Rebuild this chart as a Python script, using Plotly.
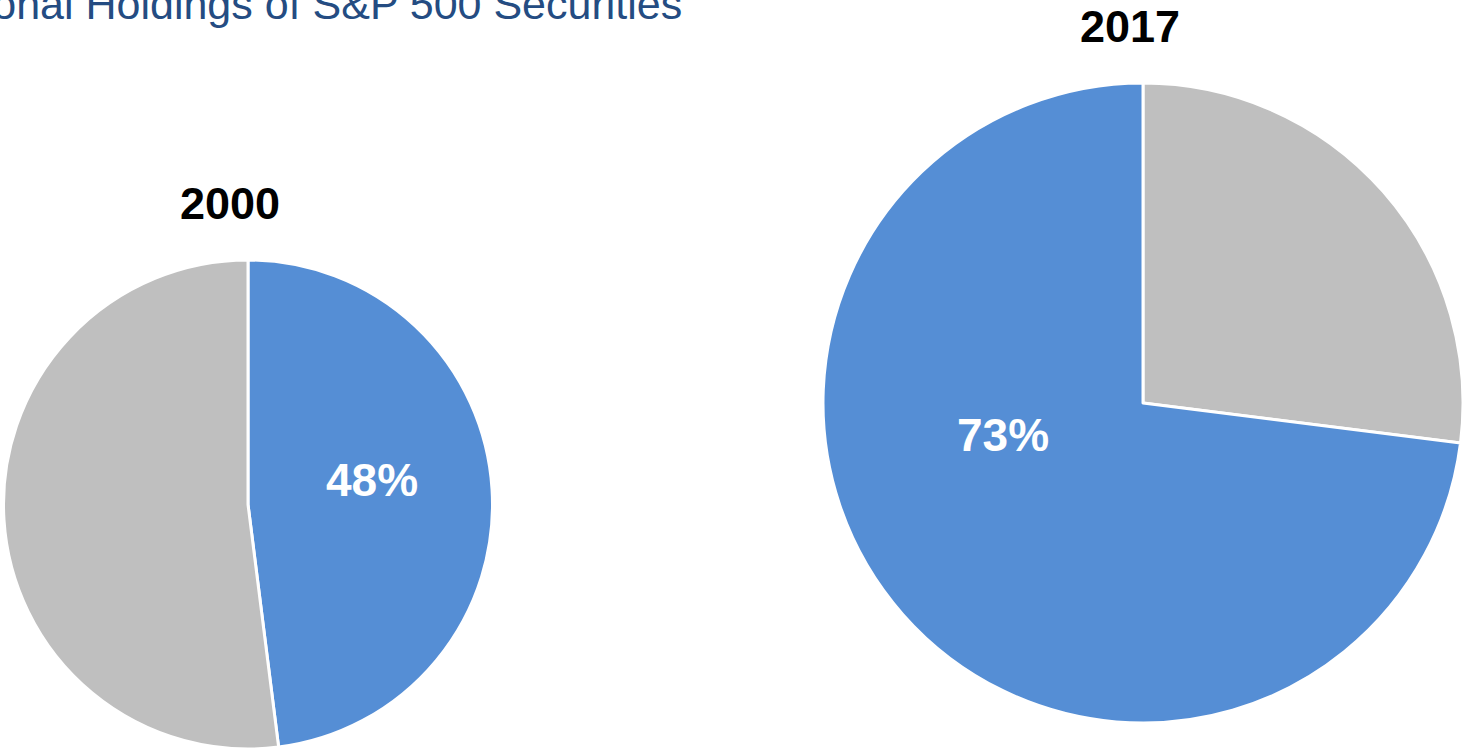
import plotly.graph_objects as go

years = ["2000", "2017"]
categories = ["Institutional", "Other"]
institutional_pct = [48, 73]
other_pct = [52, 27]
title_text = "Institutional Holdings of S&P 500 Securities"

BLUE = "#558ED5"
GRAY = "#BFBFBF"
FONT = "Arial, Liberation Sans, sans-serif"

W, H = 1466, 749

def px(x):
    return x / W

def py(y):
    return 1 - y / H

fig = go.Figure()

# 2000 pie: institutional clockwise from 12 o'clock
fig.add_trace(go.Pie(
    labels=categories,
    values=[institutional_pct[0], other_pct[0]],
    sort=False, direction="clockwise", rotation=0,
    marker=dict(colors=[BLUE, GRAY], line=dict(color="white", width=3)),
    textinfo="none", hoverinfo="label+percent",
    domain=dict(x=[px(3), px(493)], y=[py(749), py(260)]),
    showlegend=False,
))

# 2017 pie: other first clockwise from 12 o'clock, then institutional
fig.add_trace(go.Pie(
    labels=[categories[1], categories[0]],
    values=[other_pct[1], institutional_pct[1]],
    sort=False, direction="clockwise", rotation=0,
    marker=dict(colors=[GRAY, BLUE], line=dict(color="white", width=3)),
    textinfo="none", hoverinfo="label+percent",
    domain=dict(x=[px(823), px(1463)], y=[py(723), py(83)]),
    showlegend=False,
))

annotations = [
    dict(text=title_text, x=px(684), y=py(4), xref="paper", yref="paper",
         xanchor="right", yanchor="middle", showarrow=False,
         font=dict(family=FONT, size=43, color="#244C82")),
    dict(text="<b>%s</b>" % years[0], x=px(230), y=py(204), xref="paper", yref="paper",
         xanchor="center", yanchor="middle", showarrow=False,
         font=dict(family=FONT, size=45, color="black")),
    dict(text="<b>%s</b>" % years[1], x=px(1130), y=py(27), xref="paper", yref="paper",
         xanchor="center", yanchor="middle", showarrow=False,
         font=dict(family=FONT, size=45, color="black")),
    dict(text="<b>%d%%</b>" % institutional_pct[0], x=px(372), y=py(480), xref="paper", yref="paper",
         xanchor="center", yanchor="middle", showarrow=False,
         font=dict(family=FONT, size=46, color="white")),
    dict(text="<b>%d%%</b>" % institutional_pct[1], x=px(1003), y=py(435), xref="paper", yref="paper",
         xanchor="center", yanchor="middle", showarrow=False,
         font=dict(family=FONT, size=46, color="white")),
]

fig.update_layout(
    width=W, height=H,
    margin=dict(l=0, r=0, t=0, b=0),
    paper_bgcolor="white", plot_bgcolor="white",
    annotations=annotations,
)

fig.write_html("out.html", config={"displayModeBar": False},
               post_script="document.body.style.margin='0';")
